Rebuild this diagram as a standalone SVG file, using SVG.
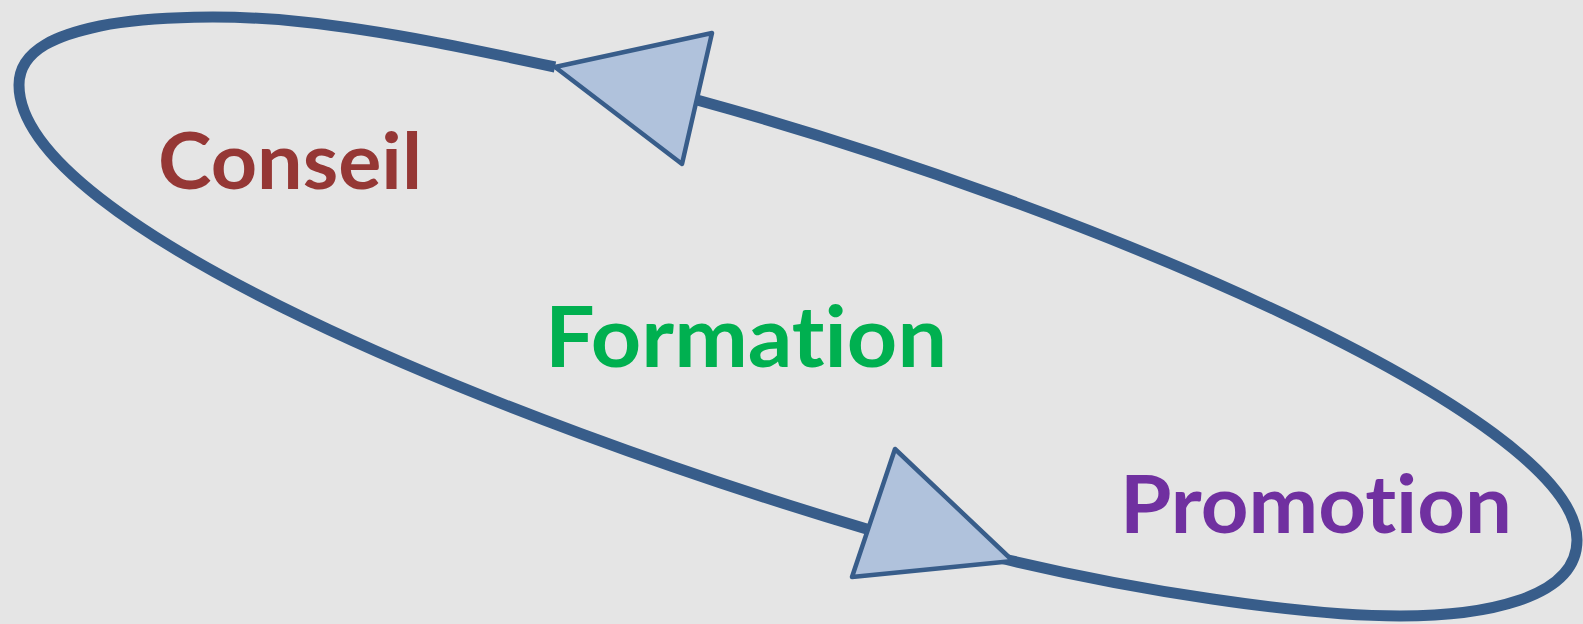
<svg xmlns="http://www.w3.org/2000/svg" width="1583" height="624" viewBox="0 0 1583 624">
  <style>
    .loop { fill: none; stroke: #385D8A; stroke-linecap: butt; stroke-linejoin: round; }
    .head { fill: #B0C2DC; stroke: #385D8A; stroke-linejoin: round; }
    .lbl { font-family: Lato, "Liberation Sans", sans-serif; font-weight: bold; font-variant-ligatures: none; font-feature-settings: "liga" 0, "clig" 0; }
  </style>
  <rect width="1583" height="624" fill="#E5E5E5"/>
  <g id="connectors">
    <path class="loop" stroke-width="11" d="M555,67 C471,49 387,31 303,22 C233,14 150,16 100,26 C62,34 19,48 19,85 C19,225 500,420 870,530"/>
    <path class="loop" stroke-width="11" d="M1000,558 C1133,590 1300,616 1400,616 C1480,616 1577,600 1577,540 C1577,415 1080,205 697,100"/>
    <polygon class="head" stroke-width="4.5" points="555,67 712,33 682,164"/>
    <polygon class="head" stroke-width="4.5" points="895,449 1013,561 852,577"/>
  </g>
  <g id="node-conseil">
    <text class="lbl" x="158" y="189" font-size="78" fill="#953735" textLength="264" lengthAdjust="spacingAndGlyphs">Conseil</text>
  </g>
  <g id="node-formation">
    <text class="lbl" x="545" y="367" font-size="84" fill="#00B050" textLength="402" lengthAdjust="spacingAndGlyphs">Formation</text>
  </g>
  <g id="node-promotion">
    <text class="lbl" x="1120" y="533" font-size="80" fill="#7030A0" textLength="392" lengthAdjust="spacingAndGlyphs">Promotion</text>
  </g>
</svg>
